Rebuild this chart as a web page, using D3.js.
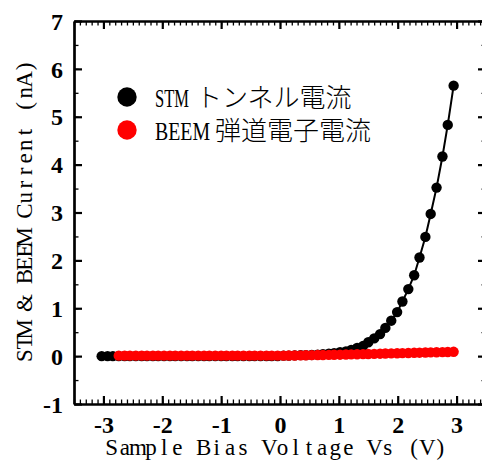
<!DOCTYPE html>
<html>
<head>
<meta charset="utf-8">
<script src="https://cdn.jsdelivr.net/npm/d3@7"></script>
<style>
  body { margin: 0; background: #fff; }
  .axis-title { font-family: "Liberation Serif", serif; font-size: 23px; fill: #000; }
  .legend-latin { font-family: "Liberation Serif", serif; font-size: 26px; fill: #000; }
  .legend-cjk { font-family: "Noto Sans CJK JP", sans-serif; font-size: 26px; font-weight: 300; fill: #000; }
</style>
</head>
<body>
<div id="chart"></div>
<script>
// sample bias voltage (V) of the STM curve
var stmVoltage = [-3.03, -2.93, -2.84, -2.74, -2.64, -2.55, -2.45, -2.35, -2.26, -2.16,
    -2.07, -1.97, -1.87, -1.78, -1.68, -1.58, -1.49, -1.39, -1.29, -1.20,
    -1.10, -1.00, -0.91, -0.81, -0.72, -0.62, -0.52, -0.43, -0.33, -0.23,
    -0.14, -0.04, 0.06, 0.15, 0.25, 0.35, 0.44, 0.54, 0.64, 0.73,
    0.83, 0.92, 1.02, 1.12, 1.21, 1.31, 1.41, 1.50, 1.60, 1.70,
    1.79, 1.89, 1.99, 2.08, 2.18, 2.28, 2.37, 2.47, 2.56, 2.66,
    2.76, 2.85, 2.95];
// STM tunnel current (nA)
var stmCurrent = [0, 0, 0, 0, 0, 0, 0, 0, 0, 0,
    0, 0, 0, 0, 0, 0, 0, 0, 0, 0,
    0, 0, 0, 0, 0, 0, 0, 0, 0, 0,
    0, 0, 0.01, 0.01, 0.015, 0.02, 0.02, 0.025, 0.03, 0.04,
    0.05, 0.06, 0.08, 0.10, 0.13, 0.17, 0.21, 0.29, 0.37, 0.46,
    0.59, 0.74, 0.92, 1.14, 1.40, 1.69, 2.06, 2.49, 2.97, 3.52,
    4.17, 4.83, 5.65];
// BEEM curve
var beemVoltage = [-2.74, -2.64, -2.55, -2.45, -2.35, -2.26, -2.16,
    -2.07, -1.97, -1.87, -1.78, -1.68, -1.58, -1.49, -1.39, -1.29, -1.20,
    -1.10, -1.00, -0.91, -0.81, -0.72, -0.62, -0.52, -0.43, -0.33, -0.23,
    -0.14, -0.04, 0.06, 0.15, 0.25, 0.35, 0.44, 0.54, 0.64, 0.73,
    0.83, 0.92, 1.02, 1.12, 1.21, 1.31, 1.41, 1.50, 1.60, 1.70,
    1.79, 1.89, 1.99, 2.08, 2.18, 2.28, 2.37, 2.47, 2.56, 2.66,
    2.76, 2.85, 2.95];
var beemCurrent = [0.01, 0.01, 0.01, 0.01, 0.01, 0.01, 0.01,
    0.01, 0.01, 0.01, 0.01, 0.01, 0.01, 0.01, 0.01, 0.01, 0.01,
    0.01, 0.01, 0.01, 0.01, 0.01, 0.01, 0.01, 0.01, 0.01, 0.01,
    0.01, 0.01, 0.01, 0.012, 0.014, 0.016, 0.018, 0.02, 0.022, 0.024,
    0.026, 0.028, 0.03, 0.033, 0.036, 0.039, 0.042, 0.045, 0.048, 0.051,
    0.054, 0.057, 0.06, 0.063, 0.066, 0.069, 0.072, 0.075, 0.078, 0.081,
    0.084, 0.087, 0.09];

var legendLatin = ["STM", "BEEM"];
var legendCjk = ["トンネル電流", "弾道電子電流"];
var legendColors = ["#000000", "#ff0000"];
var xTitle = "Sample Bias Voltage Vs (V)";
var yTitle = "STM & BEEM Current (nA)";

var width = 482, height = 461;

var svg = d3.select("#chart")
    .append("svg")
    .attr("width", width)
    .attr("height", height);

var x = d3.scaleLinear().domain([-3.5, 3.5]).range([74, 486]);
var y = d3.scaleLinear().domain([-1, 7]).range([404, 21]);

var stm = stmVoltage.map((v, i) => ({v: v, c: stmCurrent[i]}));
var beem = beemVoltage.map((v, i) => ({v: v, c: beemCurrent[i]}));

// minor ticks first, majors on top
function minor(axis, pos, ticks) {
    svg.append("g")
        .attr("transform", pos)
        .call(axis.tickValues(ticks).tickSize(-4.5).tickSizeOuter(0).tickFormat(""))
        .call(g => g.select(".domain").remove())
        .selectAll("line").attr("stroke-width", 1.3);
}
var xMinor = x.ticks(70);
var yMinor = y.ticks(16);
minor(d3.axisBottom(x), "translate(0,404)", xMinor);
minor(d3.axisTop(x), "translate(0,21)", xMinor);
minor(d3.axisLeft(y), "translate(74,0)", yMinor);
minor(d3.axisRight(y), "translate(486,0)", yMinor);

var xTicks = [-3, -2, -1, 0, 1, 2, 3];
var yTicks = [-1, 0, 1, 2, 3, 4, 5, 6, 7];

function major(axis, pos, labels) {
    var g = svg.append("g")
        .attr("transform", pos)
        .call(axis.tickSize(-8).tickSizeOuter(0).tickPadding(11));
    g.select(".domain").attr("stroke-width", 2.7);
    g.selectAll("line").attr("stroke-width", 2.2);
    if (!labels) g.selectAll("text").remove();
    g.selectAll("text")
        .style("font-family", "'Liberation Serif', serif")
        .style("font-weight", "bold")
        .style("font-size", "24px")
        .text(d => String(d)); // plain hyphen, as in the reference
    return g;
}
major(d3.axisBottom(x).tickValues(xTicks), "translate(0,404)", true)
    .selectAll("text").attr("dy", "0.75em");
major(d3.axisTop(x).tickValues(xTicks), "translate(0,21)", false);
major(d3.axisLeft(y).tickValues(yTicks), "translate(74,0)", true)
    .selectAll("text").attr("dy", "0.34em");
major(d3.axisRight(y).tickValues(yTicks), "translate(486,0)", false);

// STM curve
svg.append("path")
    .datum(stm)
    .attr("fill", "none")
    .attr("stroke", "#000")
    .attr("stroke-width", 2)
    .attr("d", d3.line().x(d => x(d.v)).y(d => y(d.c)));

svg.append("g")
    .selectAll("circle")
    .data(stm)
    .join("circle")
    .attr("cx", d => x(d.v))
    .attr("cy", d => y(d.c))
    .attr("r", 5.2)
    .attr("fill", "#000");

// BEEM curve
svg.append("path")
    .datum(beem)
    .attr("fill", "none")
    .attr("stroke", "#ff0000")
    .attr("stroke-width", 2)
    .attr("d", d3.line().x(d => x(d.v)).y(d => y(d.c)));

svg.append("g")
    .selectAll("circle")
    .data(beem)
    .join("circle")
    .attr("cx", d => x(d.v))
    .attr("cy", d => y(d.c))
    .attr("r", 5.2)
    .attr("fill", "#ff0000");

// legend
var legend = svg.append("g");
var rows = legend.selectAll("g")
    .data(legendLatin)
    .join("g")
    .attr("transform", (d, i) => `translate(127,${97 + i * 33})`);
rows.append("circle")
    .attr("r", 9.7)
    .attr("fill", (d, i) => legendColors[i]);
var label = rows.append("text")
    .attr("y", 9.5);
label.append("tspan")
    .attr("class", "legend-latin")
    .attr("x", 28)
    .attr("textLength", (d, i) => i == 0 ? 34 : 55)
    .attr("lengthAdjust", "spacingAndGlyphs")
    .text(d => d);
label.append("tspan")
    .attr("class", "legend-cjk")
    .attr("x", (d, i) => i == 0 ? 69 : 88)
    .text((d, i) => legendCjk[i]);

// axis titles: serif glyphs on a fixed monospace pitch, like the original font
var pitch = 13.15;
function cells(str, center) {
    var start = center - str.length * pitch / 2;
    return str.split("").map((c, i) => (start + pitch * (i + 0.5)).toFixed(1)).join(" ");
}

svg.append("text")
    .attr("class", "axis-title")
    .attr("x", cells(xTitle, 276))
    .attr("y", 455)
    .attr("text-anchor", "middle")
    .text(xTitle);

svg.append("text")
    .attr("class", "axis-title")
    .attr("transform", "translate(32,211) rotate(-90)")
    .attr("x", cells(yTitle, 0))
    .attr("y", 0)
    .attr("text-anchor", "middle")
    .text(yTitle);
</script>
</body>
</html>
